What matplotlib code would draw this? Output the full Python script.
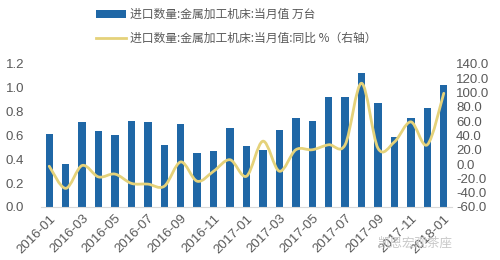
import matplotlib
matplotlib.use("Agg")
import matplotlib.pyplot as plt
from matplotlib.path import Path
from matplotlib.patches import PathPatch
from matplotlib.lines import Line2D
import numpy as np

plt.rcParams['font.family'] = ['Liberation Sans', 'Noto Sans CJK SC', 'DejaVu Sans']

months = ["2016-01","2016-02","2016-03","2016-04","2016-05","2016-06","2016-07","2016-08",
          "2016-09","2016-10","2016-11","2016-12","2017-01","2017-02","2017-03","2017-04",
          "2017-05","2017-06","2017-07","2017-08","2017-09","2017-10","2017-11","2017-12","2018-01"]
qty = [0.61,0.36,0.71,0.64,0.60,0.72,0.71,0.52,0.70,0.45,0.47,0.66,0.51,0.48,0.65,0.75,
       0.72,0.92,0.92,1.12,0.87,0.59,0.75,0.83,1.02]
yoy = [-3,-34,-2,-18,-14,-27,-28,-31,3,-24,-10,6,-17,32,-10,20,20,27,27,113,22,31,59,27,99]

bar_label = "进口数量:金属加工机床:当月值 万台"
line_label = "进口数量:金属加工机床:当月值:同比 %（右轴）"

bar_color = "#1F67A6"
line_color = "#E5D27A"
tick_color = "#595959"

fig = plt.figure(figsize=(5, 2.6), dpi=100)
ax = fig.add_axes([0.082, 0.204, 0.822, 0.550])
x = np.arange(len(months))
b = ax.bar(x, qty, width=0.45, color=bar_color, label=bar_label, zorder=2)
ax.set_ylim(0, 1.2)
ax.set_yticks(np.arange(0, 1.21, 0.2))
ax.set_yticklabels([f"{v:.1f}" for v in np.arange(0, 1.21, 0.2)])
ax.set_xlim(-0.5, len(months) - 0.5)
ax.set_xticks(x[::2])
ax.set_xticklabels(months[::2], rotation=45, ha='right', rotation_mode='anchor')

ax2 = ax.twinx()
# smoothed line (Catmull-Rom style bezier through the data points)
pts = np.column_stack([x, yoy]).astype(float)
verts = [tuple(pts[0])]
codes = [Path.MOVETO]
n = len(pts)
for i in range(n - 1):
    p0 = pts[i - 1] if i > 0 else pts[i]
    p1 = pts[i]
    p2 = pts[i + 1]
    p3 = pts[i + 2] if i + 2 < n else pts[i + 1]
    c1 = p1 + (p2 - p0) / 6.0
    c2 = p2 - (p3 - p1) / 6.0
    verts += [tuple(c1), tuple(c2), tuple(p2)]
    codes += [Path.CURVE4] * 3
patch = PathPatch(Path(verts, codes), facecolor='none', edgecolor=line_color, lw=2.0,
                  zorder=3, joinstyle='round', capstyle='round')
ax2.add_patch(patch)
ax2.set_xlim(-0.5, len(months) - 0.5)
ax2.set_ylim(-60, 140)
ax2.set_yticks(np.arange(-60, 141, 20))
ax2.set_yticklabels([f"{v:.1f}" for v in np.arange(-60, 141, 20)])
l = Line2D([], [], color=line_color, lw=2.0)

for a in (ax, ax2):
    for s in a.spines.values():
        s.set_visible(False)
    a.tick_params(length=0, colors=tick_color, labelsize=9.5)
ax.spines['bottom'].set_visible(True)
ax.spines['bottom'].set_color("#D9D9D9")
ax.tick_params(axis='x', pad=4)
ax.tick_params(axis='y', pad=12)
ax2.tick_params(axis='y', pad=3)

fig.legend([b, l], [bar_label, line_label], loc='upper left', bbox_to_anchor=(0.17, 1.01),
           frameon=False, prop={'family': ['Noto Sans CJK SC', 'DejaVu Sans'], 'size': 8.5},
           handlelength=2.6, handletextpad=0.3, labelspacing=0.9, labelcolor=tick_color)

fig.text(0.905, 0.04, "凯恩宏观茶座", family=['Noto Sans CJK SC', 'DejaVu Sans'],
         fontsize=9, color="#C8C8C8", ha='right', va='bottom')

fig.savefig("out.png", dpi=100)
